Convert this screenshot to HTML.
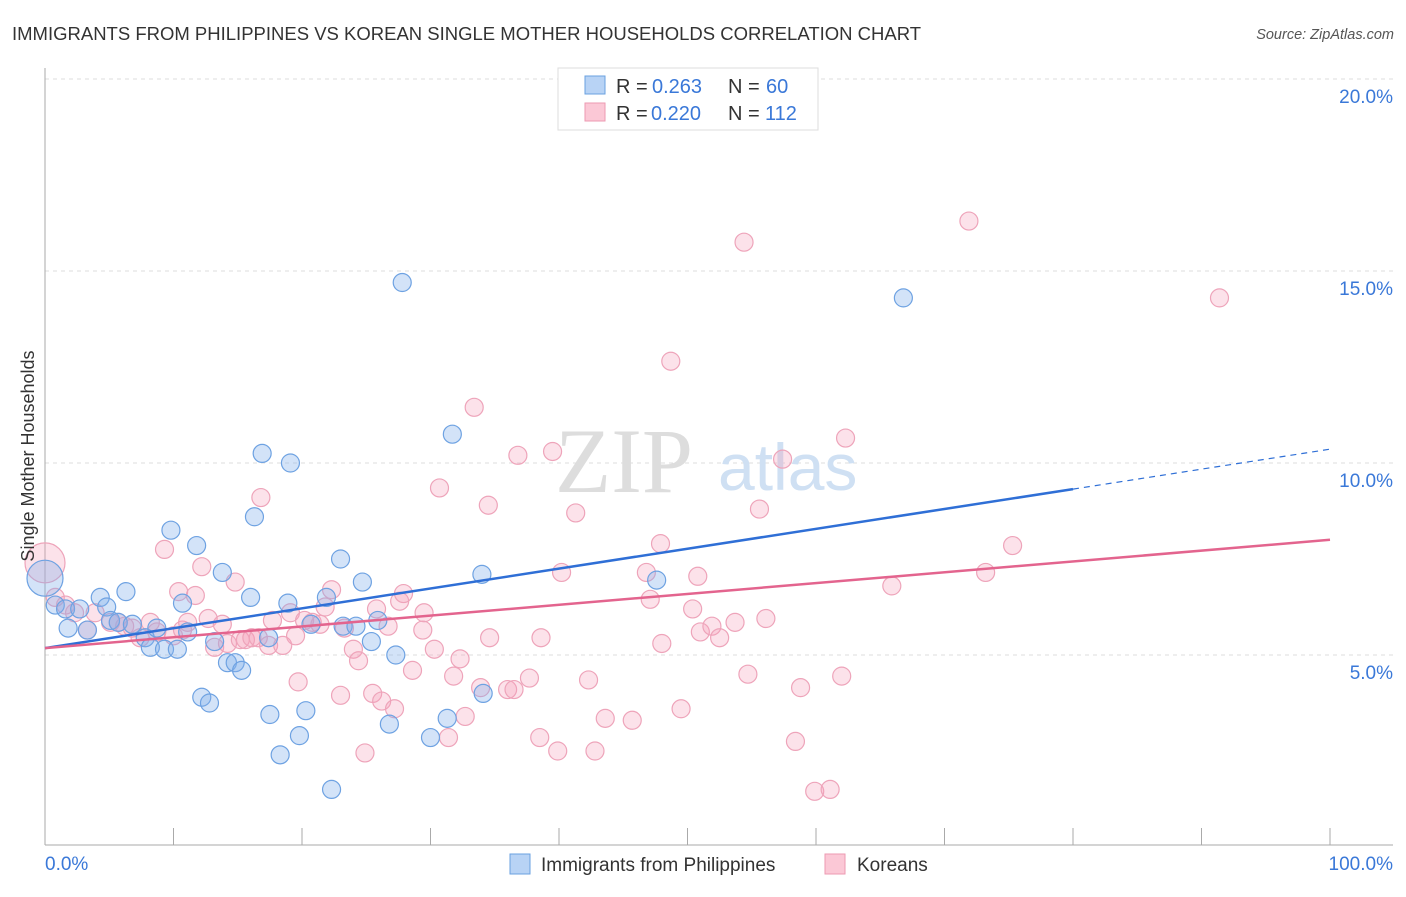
<!DOCTYPE html>
<html><head><meta charset="utf-8"><style>
body{margin:0;background:#fff;font-family:"Liberation Sans",sans-serif}
</style></head><body>
<svg id="c" width="1406" height="892" xmlns="http://www.w3.org/2000/svg">
<text x="12" y="40" font-size="18.5" fill="#333">IMMIGRANTS FROM PHILIPPINES VS KOREAN SINGLE MOTHER HOUSEHOLDS CORRELATION CHART</text>
<text x="1394" y="39" font-size="14.5" fill="#555" font-style="italic" text-anchor="end">Source: ZipAtlas.com</text>
<g id="grid"></g>
<text x="555" y="492" font-size="92" fill="#ddd" font-family="Liberation Serif">ZIP</text>
<text x="718" y="490" font-size="66" fill="#cfe0f3">atlas</text>
<g id="pts"></g>
<g id="lines"></g>
<text transform="translate(34,456) rotate(-90)" font-size="18" fill="#333" text-anchor="middle">Single Mother Households</text>
<g>
<rect x="558" y="68" width="260" height="62" fill="#fff" stroke="#ddd"/>
<rect x="585" y="76" width="20" height="18" fill="#b8d3f5" stroke="#6aa0e0"/>
<text x="616" y="93" font-size="20" fill="#333">R =</text>
<text x="652" y="93" font-size="20" fill="#3a78d8">0.263</text>
<text x="728" y="93" font-size="20" fill="#333">N =</text>
<text x="766" y="93" font-size="20" fill="#3a78d8">60</text>
<rect x="585" y="103" width="20" height="18" fill="#fbc8d6" stroke="#ec9ab2"/>
<text x="616" y="120" font-size="20" fill="#333">R =</text>
<text x="651" y="120" font-size="20" fill="#3a78d8">0.220</text>
<text x="728" y="120" font-size="20" fill="#333">N =</text>
<text x="765" y="120" font-size="20" fill="#3a78d8">112</text>
</g>
<g>
<rect x="510" y="854" width="20" height="20" fill="#b8d3f5" stroke="#6aa0e0"/>
<text x="541" y="871" font-size="19" fill="#333">Immigrants from Philippines</text>
<rect x="825" y="854" width="20" height="20" fill="#fbc8d6" stroke="#ec9ab2"/>
<text x="857" y="871" font-size="19" fill="#333">Koreans</text>
</g>
</svg>
<script>
const xTicks=[0,10,20,30,40,50,60,70,80,90,100];
const yTicks=[5,10,15,20];
const yTickLabels=["5.0%","10.0%","15.0%","20.0%"];
const xEndLabels=["0.0%","100.0%"];
const blueX=[0,0.8,1.6,1.8,2.7,3.3,4.3,4.8,5.1,5.7,6.3,6.8,7.8,8.2,8.7,9.3,9.8,10.3,10.7,11.1,11.8,12.2,12.8,13.2,13.8,14.2,14.8,15.3,16.0,16.3,16.9,17.4,17.5,18.3,18.9,19.1,19.8,20.3,20.7,21.9,22.3,23.0,23.2,24.2,24.7,25.4,25.9,26.8,27.3,27.8,30.0,31.3,31.7,34.0,34.1,47.6,66.8];
const blueY=[7.0,6.3,6.2,5.7,6.2,5.65,6.5,6.25,5.9,5.85,6.65,5.8,5.45,5.2,5.7,5.15,8.25,5.15,6.35,5.6,7.85,3.9,3.75,5.35,7.15,4.8,4.8,4.6,6.5,8.6,10.25,5.45,3.45,2.4,6.35,10.0,2.9,3.55,5.8,6.5,1.5,7.5,5.75,5.75,6.9,5.35,5.9,3.2,5.0,14.7,2.85,3.35,10.75,7.1,4.0,6.95,14.3];
const pinkX=[0,0.8,1.6,2.3,3.3,3.9,5.1,5.7,6.2,6.8,7.4,8.2,8.7,9.3,10.0,10.4,10.7,11.1,11.7,12.2,12.7,13.2,13.8,14.2,14.8,15.2,15.6,16.1,16.6,16.8,17.4,17.7,18.5,19.1,19.5,19.7,20.2,20.8,21.4,21.8,22.3,23.0,23.3,24.0,24.4,24.9,25.5,25.8,26.2,26.7,27.2,27.6,27.9,28.6,29.5,29.4,30.3,30.7,31.4,31.8,32.3,32.7,33.4,33.9,34.5,34.6,36.0,36.5,36.8,37.7,38.5,38.6,39.5,39.9,40.2,41.3,42.3,42.8,43.6,45.7,46.8,47.1,47.9,48.0,48.7,49.5,50.8,50.4,51.0,51.9,52.5,53.7,54.4,54.7,55.6,56.1,57.4,58.4,58.8,59.9,61.1,62.0,62.3,65.9,71.9,73.2,75.3,91.4];
const pinkY=[7.4,6.5,6.3,6.1,5.65,6.1,5.85,5.85,5.75,5.7,5.45,5.85,5.6,7.75,5.5,6.65,5.65,5.85,6.55,7.3,5.95,5.2,5.8,5.3,6.9,5.4,5.4,5.45,5.45,9.1,5.25,5.9,5.25,6.1,5.5,4.3,5.9,5.85,5.8,6.25,6.7,3.95,5.7,5.15,4.85,2.45,4.0,6.2,3.8,5.75,3.6,6.4,6.6,4.6,6.1,5.65,5.15,9.35,2.85,4.45,4.9,3.4,11.45,4.15,8.9,5.45,4.1,4.1,10.2,4.4,2.85,5.45,10.3,2.5,7.15,8.7,4.35,2.5,3.35,3.3,7.15,6.45,7.9,5.3,12.65,3.6,7.05,6.2,5.6,5.75,5.45,5.85,15.75,4.5,8.8,5.95,10.1,2.75,4.15,1.45,1.5,4.45,10.65,6.8,16.3,7.15,7.85,14.3];
const blueTrend=[5.18,9.32,10.36];
const pinkTrend=[5.18,8.0];
const X0=45,X1=1330,YB=847,PPY=38.4;
const sx=v=>X0+(X1-X0)*v/100, sy=v=>YB-v*PPY;
const NS="http://www.w3.org/2000/svg";
function mk(t,a,p){const e=document.createElementNS(NS,t);for(const k in a)e.setAttribute(k,a[k]);p.appendChild(e);return e;}
const g=document.getElementById('grid');
yTicks.forEach((t,i)=>{
 const l=mk('line',{x1:45,x2:1393,y1:sy(t),y2:sy(t),stroke:'#ddd','stroke-dasharray':'4,4'},g);
 
 
 const tx=mk('text',{x:1393,y:sy(t)+24,'font-size':19,fill:'#3a78d8','text-anchor':'end'},g);
 tx.textContent=yTickLabels[i];
 
 
});
mk('line',{x1:45,x2:45,y1:68,y2:845,stroke:'#aaa'},g);
mk('line',{x1:45,x2:1393,y1:845,y2:845,stroke:'#aaa'},g);
xTicks.forEach(t=>{
 const l=mk('line',{x1:sx(t),x2:sx(t),y1:828,y2:845,stroke:'#aaa'},g);
 
 
});
const a=mk('text',{x:45,y:870,'font-size':19,fill:'#3a78d8'},g);a.textContent=xEndLabels[0];


const b=mk('text',{x:1393,y:870,'font-size':19,fill:'#3a78d8','text-anchor':'end'},g);b.textContent=xEndLabels[1];


const P=document.getElementById('pts');
pinkX.forEach((x,i)=>{
 const c=mk('circle',{cx:sx(x),cy:sy(pinkY[i]),r:i==0?20:9,fill:'rgba(245,160,185,0.3)',stroke:'#eea4ba','stroke-width':1.2},P);
 
 
});
blueX.forEach((x,i)=>{
 const c=mk('circle',{cx:sx(x),cy:sy(blueY[i]),r:i==0?18:9,fill:'rgba(130,175,235,0.35)',stroke:'#6ea2e2','stroke-width':1.2},P);
 
 
});
const L=document.getElementById('lines');
const bl=mk('line',{x1:sx(0),y1:sy(blueTrend[0]),x2:sx(80),y2:sy(blueTrend[1]),stroke:'#2f6fd6','stroke-width':2.5},L);


const bd=mk('line',{x1:sx(80),y1:sy(blueTrend[1]),x2:sx(100),y2:sy(blueTrend[2]),stroke:'#2f6fd6','stroke-width':1.2,'stroke-dasharray':'6,5'},L);


const pl=mk('line',{x1:sx(0),y1:sy(pinkTrend[0]),x2:sx(100),y2:sy(pinkTrend[1]),stroke:'#e3648e','stroke-width':2.5},L);


</script>
</body></html>
